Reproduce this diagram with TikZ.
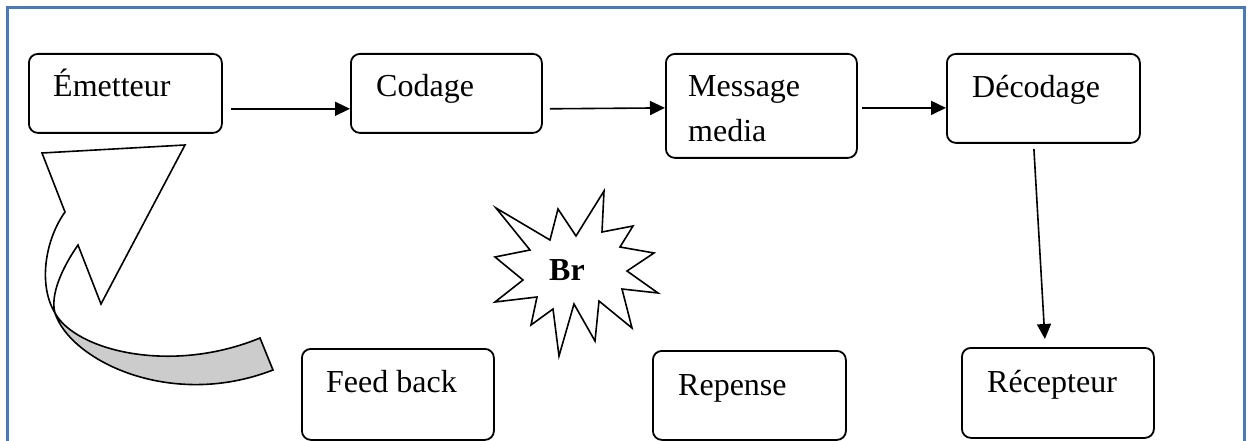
\documentclass[tikz,border=0pt]{standalone}
\usepackage{fontspec}
\setmainfont{Liberation Serif}
\usetikzlibrary{arrows.meta,calc}
\definecolor{framec}{RGB}{74,122,180}
\tikzset{
  box/.style={draw=black,line width=1.8pt,rounded corners=9pt,anchor=north west,inner sep=0pt},
  lbl/.style={anchor=base west,inner sep=0pt,font=\fontsize{32}{45}\selectfont},
  arr/.style={line width=1.6pt,-{Triangle[length=15pt,width=14pt]}},
  shp/.style={draw=black,line width=1.6pt,line join=miter},
}
\begin{document}
\begin{tikzpicture}[x=1pt,y=-1pt]
\useasboundingbox (0,0) rectangle (1248,441);
\clip (0,0) rectangle (1248,441);
\draw[framec,line width=3pt] (7,8) rectangle (1244,470);
% boxes
\node[box,minimum width=193pt,minimum height=79pt] (em) at (28,53) {};
\node[box,minimum width=191pt,minimum height=79pt] (cod) at (350,53) {};
\node[box,minimum width=191pt,minimum height=104pt] (msg) at (665,53) {};
\node[box,minimum width=193pt,minimum height=89pt] (dec) at (946,53) {};
\node[box,minimum width=192pt,minimum height=90pt] (rec) at (961,347) {};
\node[box,minimum width=192pt,minimum height=91pt] (fb) at (301,348) {};
\node[box,minimum width=193pt,minimum height=89pt] (rep) at (652,350) {};
% texts
\node[lbl] (emT) at (53,97) {Émetteur};
\node[lbl] (codT) at (376,97) {Codage};
\node[lbl,align=left] (msgT) at (688,142) {Message\\media};
\node[lbl] (decT) at (972,98) {Décodage};
\node[lbl] (recT) at (987,392) {Récepteur};
\node[lbl] (fbT) at (326,392) {Feed back};
\node[lbl] (repT) at (678,395) {Repense};
% connectors
\draw[arr] ([xshift=8pt,yshift=25pt]em.south east) -- ([yshift=25pt]cod.south west);
\draw[arr] ([xshift=7pt,yshift=25pt]cod.south east) -- ([yshift=-2pt]msg.west);
\draw[arr] ([xshift=4pt,yshift=-2pt]msg.east) -- ([yshift=-9.5pt]dec.west);
\draw[arr] ([xshift=-9.5pt,yshift=-5pt]dec.south) -- ([xshift=-13pt,yshift=8pt]rec.north);
% curved feedback arrow
\fill[gray!40] (55,313) .. controls (75,350) and (170,375) .. (260,338) -- (273,370)
   .. controls (170,410) and (70,360) .. (55,313) -- cycle;
\draw[shp,fill=white] (65,212) -- (42,153) -- (185,145) -- (101,304) -- (78,245)
   .. controls (62,268) and (50,295) .. (55,313)
   .. controls (38,285) and (45,240) .. (65,212) -- cycle;
\draw[shp] (55,313) .. controls (75,350) and (170,375) .. (260,338) -- (273,370)
   .. controls (170,410) and (70,360) .. (55,313);
% starburst
\draw[shp,fill=white] (496,208) -- (550,240) -- (558,209) -- (576,236) -- (604,191) -- (602,232)
  -- (633,226) -- (620,247) -- (654,253) -- (627,271) -- (658,293) -- (622,289)
  -- (632,328) -- (599,301) -- (595,341) -- (574,304) -- (559,356) -- (553,309)
  -- (531,325) -- (537,297) -- (495,302) -- (523,280) -- (495,257) -- (530,250) -- cycle;
\node[font=\fontsize{32}{36}\selectfont\bfseries,inner sep=0pt] (br) at (567,270) {Br};
\end{tikzpicture}
\end{document}
